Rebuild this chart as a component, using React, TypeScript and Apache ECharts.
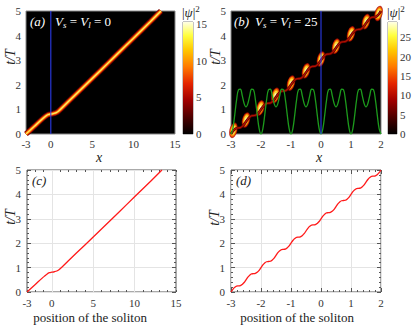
import React, { useEffect, useRef } from "react";
import * as echarts from "echarts";

// ---------- data ----------
const yTickValues = [0, 1, 2, 3, 4, 5];
const xLabelsWide = [-3, 0, 5, 10, 15];
const xLabelsNarrow = [-3, -2, -1, 0, 1, 2];

// position of the vertical marker (x = 0) drawn in (a) and (b)
const markerX = 0;
const markerT = [0, 5];

// soliton trajectory, V_s = V_l = 0 (panels a, c)
const trajAx = [-3, -2, -1, -0.6, -0.3, 0, 0.3, 0.6, 0.9, 2, 4, 6, 8, 10, 12, 13.3];
const trajAt = [0, 0.31, 0.62, 0.73, 0.79, 0.81, 0.83, 0.86, 0.92, 1.28, 1.93, 2.58, 3.24, 3.9, 4.56, 5];

// soliton trajectory, V_s = V_l = 25 (panels b, d), sampled every 0.0625 in x from -3
const trajDx0 = -3;
const trajDstep = 0.0625;
const trajDt = [
  0, 0.11, 0.19, 0.24, 0.25, 0.26, 0.31, 0.39,
  0.5, 0.61, 0.69, 0.74, 0.75, 0.76, 0.81, 0.89,
  1.0, 1.11, 1.19, 1.24, 1.25, 1.26, 1.31, 1.39,
  1.5, 1.61, 1.69, 1.74, 1.75, 1.76, 1.81, 1.89,
  2.0, 2.11, 2.19, 2.24, 2.25, 2.26, 2.31, 2.39,
  2.5, 2.61, 2.69, 2.74, 2.75, 2.76, 2.81, 2.89,
  3.0, 3.11, 3.19, 3.24, 3.25, 3.26, 3.31, 3.39,
  3.5, 3.61, 3.69, 3.74, 3.75, 3.76, 3.81, 3.89,
  4.0, 4.11, 4.19, 4.24, 4.25, 4.26, 4.31, 4.39,
  4.5, 4.61, 4.69, 4.74, 4.75, 4.76, 4.81, 4.89,
  5.0,
];

// potential profile (green curve in b), same x sampling
const potV = [
  0, 0.22, 0.78, 1.4, 1.8, 1.82, 1.56, 1.24, 1.1, 1.24, 1.56, 1.82, 1.8, 1.4, 0.78, 0.22,
  0, 0.22, 0.78, 1.4, 1.8, 1.82, 1.56, 1.24, 1.1, 1.24, 1.56, 1.82, 1.8, 1.4, 0.78, 0.22,
  0, 0.22, 0.78, 1.4, 1.8, 1.82, 1.56, 1.24, 1.1, 1.24, 1.56, 1.82, 1.8, 1.4, 0.78, 0.22,
  0, 0.22, 0.78, 1.4, 1.8, 1.82, 1.56, 1.24, 1.1, 1.24, 1.56, 1.82, 1.8, 1.4, 0.78, 0.22,
  0, 0.22, 0.78, 1.4, 1.8, 1.82, 1.56, 1.24, 1.1, 1.24, 1.56, 1.82, 1.8, 1.4, 0.78, 0.22,
  0,
];

// bright density blobs in (b)
const blobX = [-2.92, -2.5, -2.02, -1.52, -1.0, -0.5, 0.0, 0.5, 1.0, 1.5, 1.92];
const blobT = [0.15, 0.57, 1.06, 1.57, 2.07, 2.57, 3.05, 3.57, 4.07, 4.57, 4.9];

const cbMaxA = 15.3;
const cbTicksA = [0, 5, 10, 15];
const cbMaxB = 29;
const cbTicksB = [0, 5, 10, 15, 20, 25];

// ---------- helpers ----------
const serif = "Liberation Serif";
const labelColor = "#333";

const zip = (xs: number[], ys: number[]) => xs.map((x, i) => [x, ys[i]]);
const trajA = zip(trajAx, trajAt);
const trajD = trajDt.map((t, i) => [trajDx0 + i * trajDstep, t]);
const potD = potV.map((v, i) => [trajDx0 + i * trajDstep, v]);
const blobs = zip(blobX, blobT);
const marker = markerT.map((t) => [markerX, t]);

const hotStops = [
  { offset: 0, color: "#000000" },
  { offset: 0.12, color: "#3c0000" },
  { offset: 0.3, color: "#a00000" },
  { offset: 0.45, color: "#e42400" },
  { offset: 0.6, color: "#ff7a00" },
  { offset: 0.75, color: "#ffc800" },
  { offset: 0.88, color: "#ffff40" },
  { offset: 1, color: "#ffffe6" },
];

const fmtNum = (v: number) => (v < 0 ? "-" + Math.abs(v) : String(v));
const pick = (list: number[]) => (v: number) =>
  list.some((l) => Math.abs(l - v) < 1e-6) ? fmtNum(Math.round(v)) : "";

const tickLabel = (list: number[], margin: number, show = true) => ({
  show,
  formatter: pick(list),
  fontFamily: serif,
  fontSize: 11,
  color: labelColor,
  margin,
});

const ellipse = "path://M0,10 A6,10 0 1,1 12,10 A6,10 0 1,1 0,10 Z";

export default function App() {
  const ref = useRef<HTMLDivElement>(null);
  useEffect(() => {
    if (!ref.current) return;
    const chart = echarts.init(ref.current, undefined, { renderer: "svg" });

    const frameLine = { show: false, onZero: false };
    const lineTick = (len: number) => ({
      show: true,
      inside: true,
      length: len,
      lineStyle: { color: "#555", width: 1 },
    });
    const minor = { show: true, splitNumber: 5, length: 2, lineStyle: { color: "#555", width: 1 } };
    const gridLine = { show: true, lineStyle: { color: "#e4e4e4", width: 1 } };

    const xAxis: any[] = [
      { type: "value", gridIndex: 0, min: -3, max: 15, interval: 1, axisLine: frameLine, axisTick: { show: false }, splitLine: { show: false }, axisLabel: tickLabel(xLabelsWide, 4) },
      { type: "value", gridIndex: 1, min: -3, max: 2, interval: 1, axisLine: frameLine, axisTick: { show: false }, splitLine: { show: false }, axisLabel: tickLabel(xLabelsNarrow, 4) },
      { type: "value", gridIndex: 2, min: -3, max: 15, interval: 1, axisLine: frameLine, axisTick: lineTick(2), splitLine: { show: false }, axisLabel: tickLabel(xLabelsWide, 5) },
      { type: "value", gridIndex: 3, min: -3, max: 2, interval: 1, axisLine: frameLine, axisTick: lineTick(4), minorTick: minor, splitLine: gridLine, axisLabel: tickLabel(xLabelsNarrow, 5) },
      { type: "value", gridIndex: 2, position: "top", min: -3, max: 15, interval: 1, axisLine: frameLine, axisTick: lineTick(2), splitLine: { show: false }, axisLabel: { show: false } },
      { type: "value", gridIndex: 3, position: "top", min: -3, max: 2, interval: 1, axisLine: frameLine, axisTick: lineTick(4), minorTick: minor, splitLine: { show: false }, axisLabel: { show: false } },
      { type: "category", gridIndex: 4, data: [""], show: false },
      { type: "category", gridIndex: 5, data: [""], show: false },
    ];

    const yAxis: any[] = [
      { type: "value", gridIndex: 0, min: 0, max: 5, interval: 1, axisLine: frameLine, axisTick: { show: false }, splitLine: { show: false }, axisLabel: tickLabel(yTickValues, 5) },
      { type: "value", gridIndex: 1, min: 0, max: 5, interval: 1, axisLine: frameLine, axisTick: { show: false }, splitLine: { show: false }, axisLabel: tickLabel(yTickValues, 5) },
      { type: "value", gridIndex: 2, min: 0, max: 5, interval: 1, axisLine: frameLine, axisTick: lineTick(4), minorTick: minor, splitLine: gridLine, axisLabel: tickLabel(yTickValues, 6) },
      { type: "value", gridIndex: 3, min: 0, max: 5, interval: 1, axisLine: frameLine, axisTick: lineTick(4), minorTick: minor, splitLine: gridLine, axisLabel: tickLabel(yTickValues, 6) },
      { type: "value", gridIndex: 2, position: "right", min: 0, max: 5, interval: 1, axisLine: frameLine, axisTick: lineTick(4), minorTick: minor, splitLine: { show: false }, axisLabel: { show: false } },
      { type: "value", gridIndex: 3, position: "right", min: 0, max: 5, interval: 1, axisLine: frameLine, axisTick: lineTick(4), minorTick: minor, splitLine: { show: false }, axisLabel: { show: false } },
      { type: "value", gridIndex: 4, position: "right", min: 0, max: cbMaxA, interval: 5, axisLine: frameLine, axisTick: { show: false }, splitLine: { show: false }, axisLabel: tickLabel(cbTicksA, 3) },
      { type: "value", gridIndex: 5, position: "right", min: 0, max: cbMaxB, interval: 5, axisLine: frameLine, axisTick: { show: false }, splitLine: { show: false }, axisLabel: tickLabel(cbTicksB, 3) },
    ];

    const line = (xi: number, yi: number, data: number[][], color: string, width: number, extra: any = {}) => ({
      type: "line",
      xAxisIndex: xi,
      yAxisIndex: yi,
      data,
      showSymbol: false,
      symbol: "none",
      smooth: 0.3,
      lineStyle: { color, width },
      silent: true,
      ...extra,
    });

    const blobLayer = (w: number, h: number, color: string) => ({
      type: "scatter",
      xAxisIndex: 1,
      yAxisIndex: 1,
      data: blobs,
      symbol: ellipse,
      symbolSize: [w, h],
      symbolRotate: -14,
      itemStyle: { color },
      silent: true,
    });

    const cbGradient = { type: "linear", x: 0, y: 1, x2: 0, y2: 0, colorStops: hotStops };

    const series: any[] = [
      // (a) density trace
      line(0, 0, trajA, "#6a0000", 5.5),
      line(0, 0, trajA, "#d42000", 4),
      line(0, 0, trajA, "#ff8c00", 2.6),
      line(0, 0, trajA, "#ffe866", 1.2),
      line(0, 0, marker, "#2f40ff", 1, { smooth: false }),
      // (b) density trace
      line(1, 1, trajD, "#5e0000", 2.6),
      line(1, 1, trajD, "#b01000", 1.2),
      blobLayer(8, 16, "#a00800"),
      blobLayer(7, 14.5, "#ee3a00"),
      blobLayer(5.8, 12.5, "#ffa800"),
      blobLayer(4.2, 9.5, "#ffe84a"),
      blobLayer(2.2, 5, "#ffffd0"),
      line(1, 1, potD, "#1c9a1c", 1.3, { smooth: 0.4 }),
      line(1, 1, marker, "#2f40ff", 1, { smooth: false }),
      // (c)
      line(2, 2, trajA, "#ff1a1a", 1.3, {
        markLine: {
          silent: true,
          symbol: "none",
          label: { show: false },
          lineStyle: { color: "#e4e4e4", width: 1, type: "solid" },
          data: [{ xAxis: 0 }, { xAxis: 5 }, { xAxis: 10 }],
          z: 1,
        },
        z: 3,
      }),
      // (d)
      line(3, 3, trajD, "#ff1a1a", 1.3, { smooth: 0.4 }),
      // colorbars
      { type: "bar", xAxisIndex: 6, yAxisIndex: 6, data: [cbMaxA], barWidth: "100%", itemStyle: { color: cbGradient }, silent: true },
      { type: "bar", xAxisIndex: 7, yAxisIndex: 7, data: [cbMaxB], barWidth: "100%", itemStyle: { color: cbGradient }, silent: true },
    ];

    const txt = (x: number, y: number, text: string, style: any = {}, extra: any = {}) => ({
      type: "text",
      x,
      y,
      silent: true,
      style: {
        text,
        fontFamily: serif,
        fontSize: 13,
        fill: "#222",
        verticalAlign: "middle",
        ...style,
      },
      ...extra,
    });

    const richV = (fill: string) => ({
      i: { fontFamily: serif, fontStyle: "italic", fontSize: 13, fill, lineHeight: 16 },
      s: { fontFamily: serif, fontStyle: "italic", fontSize: 9, fill, lineHeight: 16, verticalAlign: "bottom" },
      n: { fontFamily: serif, fontSize: 13, fill, lineHeight: 16 },
    });
    const richPsi = {
      i: { fontFamily: serif, fontStyle: "italic", fontSize: 13, fill: "#222", lineHeight: 16 },
      n: { fontFamily: serif, fontSize: 13, fill: "#222", lineHeight: 16 },
      p: { fontFamily: serif, fontSize: 9, fill: "#222", lineHeight: 16, verticalAlign: "top" },
    };

    const graphic: any[] = [
      txt(30, 21, "(a)", { fill: "#fff", fontStyle: "italic" }),
      txt(55, 21, "{i|V}{s|s}{n| = }{i|V}{s|l}{n| = 0}", { rich: richV("#fff") }),
      txt(234, 21, "(b)", { fill: "#fff", fontStyle: "italic" }),
      txt(255, 21, "{i|V}{s|s}{n| = }{i|V}{s|l}{n| = 25}", { rich: richV("#fff") }),
      txt(32, 180, "(c)", { fontStyle: "italic" }),
      txt(236, 180, "(d)", { fontStyle: "italic" }),
      txt(182, 12, "{n||}{i|ψ}{n||}{p|2}", { rich: richPsi }),
      txt(387, 12, "{n||}{i|ψ}{n||}{p|2}", { rich: richPsi }),
      txt(10, 57, "t/T", { fontStyle: "italic", fontSize: 14, align: "center" }, { rotation: Math.PI / 2 }),
      txt(215, 57, "t/T", { fontStyle: "italic", fontSize: 14, align: "center" }, { rotation: Math.PI / 2 }),
      txt(10, 217, "t/T", { fontStyle: "italic", fontSize: 14, align: "center" }, { rotation: Math.PI / 2 }),
      txt(214, 218, "t/T", { fontStyle: "italic", fontSize: 14, align: "center" }, { rotation: Math.PI / 2 }),
      txt(99, 157, "x", { fontStyle: "italic", fontSize: 14, align: "center" }),
      txt(319, 157, "x", { fontStyle: "italic", fontSize: 14, align: "center" }),
      txt(90, 317, "position of the soliton", { fontSize: 13, align: "center" }),
      txt(297, 317, "position of the soliton", { fontSize: 13, align: "center" }),
    ];

    chart.setOption({
      animation: false,
      backgroundColor: "#fff",
      grid: [
        { left: 26, top: 11, width: 149, height: 123, show: true, backgroundColor: "#000", borderColor: "#888", borderWidth: 1 },
        { left: 231, top: 11, width: 150, height: 123, show: true, backgroundColor: "#000", borderColor: "#888", borderWidth: 1 },
        { left: 27, top: 170, width: 149, height: 122, show: true, backgroundColor: "#fff", borderColor: "#555", borderWidth: 1 },
        { left: 231, top: 170, width: 150, height: 122, show: true, backgroundColor: "#fff", borderColor: "#555", borderWidth: 1 },
        { left: 183, top: 22, width: 10, height: 112, show: true, borderColor: "#888", borderWidth: 1 },
        { left: 388, top: 22, width: 9, height: 112, show: true, borderColor: "#888", borderWidth: 1 },
      ],
      xAxis,
      yAxis,
      series,
      graphic,
    });
    return () => chart.dispose();
  }, []);

  return (
    <div
      ref={ref}
      style={{ position: "absolute", left: 0, top: 0, width: 415, height: 326 }}
    />
  );
}
